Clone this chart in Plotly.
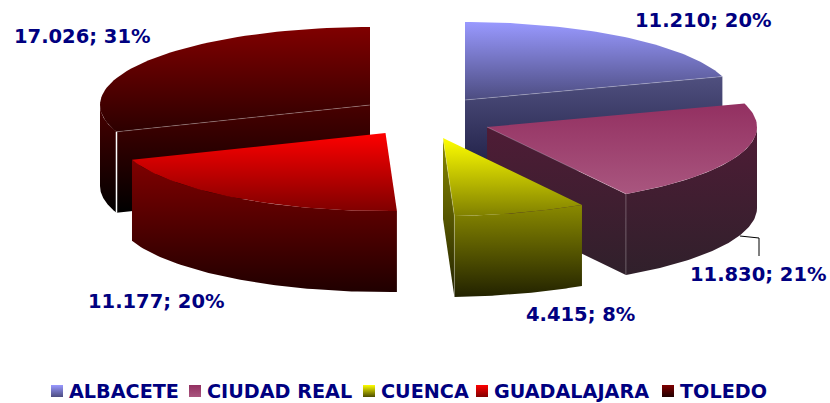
import math
import plotly.graph_objects as go

# ---- data ----
categories = ["ALBACETE", "CIUDAD REAL", "CUENCA", "GUADALAJARA", "TOLEDO"]
values = [11210, 11830, 4415, 11177, 17026]

# ---- style: gradients as (start colour, end colour) ----
top_grad = [("#9999FF", "#4C4C80"), ("#933061", "#A9567F"), ("#FFFF00", "#808000"),
            ("#FF0000", "#800000"), ("#800000", "#2C0000")]
wall_grad = [("#50507F", "#1A1A40"), ("#4F1C36", "#30202B"), ("#8A8A00", "#222200"),
             ("#800000", "#200000"), ("#480000", "#000000")]
swatch_grad = [("#9999FF", "#4C4C80"), ("#933061", "#A9567F"), ("#FFFF00", "#4C4C00"),
               ("#FF0000", "#800000"), ("#800000", "#200000")]
NAVY = "#000080"
FONT = "DejaVu Sans"

# ---- layout geometry ----
RX, RY, DEPTH = 270, 78, 81
centres = [(465, 100), (487, 127), (443, 138), (385.5, 133), (370, 105)]
draw_order = [4, 0, 3, 1, 2]
label_pos = [(635, 20), (690, 274), (526, 314), (88, 301), (14, 36)]
legend_swatch_x = [57, 195, 369, 482, 668]
legend_text_x = [69, 207, 381, 494, 680]
legend_y = 391

total = sum(values)
edges = [0.0]
for v in values:
    edges.append(edges[-1] + v / total * 360)


def pt(c, deg, dz=0):
    r = math.radians(deg)
    return c[0] + RX * math.sin(r), c[1] - RY * math.cos(r) + dz


def arc(c, a, b, dz=0, n=60):
    return [pt(c, a + (b - a) * i / n, dz) for i in range(n + 1)]


def poly(points, grad, y0, y1, name):
    xs = [p[0] for p in points] + [points[0][0]]
    ys = [p[1] for p in points] + [points[0][1]]
    return go.Scatter(
        x=xs, y=ys, mode="lines", fill="toself", line=dict(width=0), name=name,
        fillgradient=dict(type="vertical", start=y0, stop=y1,
                          colorscale=[[0, grad[0]], [1, grad[1]]]),
        hoverinfo="name", showlegend=False,
    )


def edge(p, q, color="rgba(255,255,255,0.3)", w=0.8):
    return go.Scatter(x=[p[0], q[0]], y=[p[1], q[1]], mode="lines",
                      line=dict(color=color, width=w), hoverinfo="skip", showlegend=False)


fig = go.Figure()
for i in draw_order:
    c = centres[i]
    a, b = edges[i], edges[i + 1]
    name = categories[i]
    top = [c] + arc(c, a, b)
    tops_y = [p[1] for p in top]
    g = top_grad[i]
    w = wall_grad[i]
    # visible cut faces
    if 0 < b < 180:
        e = pt(c, b)
        face = [c, e, (e[0], e[1] + DEPTH), (c[0], c[1] + DEPTH)]
        fy = [p[1] for p in face]
        fig.add_trace(poly(face, w, min(fy), max(fy), name))
    if 180 < a < 360:
        e = pt(c, a)
        face = [c, e, (e[0], e[1] + DEPTH), (c[0], c[1] + DEPTH)]
        fy = [p[1] for p in face]
        fig.add_trace(poly(face, w, min(fy), max(fy), name))
    # outer wall, front half only
    lo, hi = max(a, 90), min(b, 270)
    if lo < hi:
        t = arc(c, lo, hi)
        wall = t + [(x, y + DEPTH) for x, y in reversed(t)]
        fy = [p[1] for p in wall]
        fig.add_trace(poly(wall, w, min(fy), max(fy), name))
    fig.add_trace(poly(top, g, min(tops_y), max(tops_y), name))

    # thin highlights along the visible edges
    if 0 < b < 180:
        e = pt(c, b)
        fig.add_trace(edge(c, e))
        fig.add_trace(edge(e, (e[0], e[1] + DEPTH)))
    if 180 < a < 360:
        e = pt(c, a)
        fig.add_trace(edge(c, e))
        fig.add_trace(edge(e, (e[0], e[1] + DEPTH), "#FFFFFF", 1.5))

# leader line of the CIUDAD REAL label
fig.add_trace(go.Scatter(x=[740, 759, 759], y=[236, 238, 256], mode="lines",
                         line=dict(color="#000000", width=1),
                         hoverinfo="skip", showlegend=False))

# data labels
annotations = []
for i, v in enumerate(values):
    txt = f"{v:,}".replace(",", ".") + f"; {round(v / total * 100)}%"
    annotations.append(dict(x=label_pos[i][0], y=label_pos[i][1], text=txt, showarrow=False,
                            xanchor="left", yanchor="middle", xshift=-2,
                            font=dict(family=FONT, size=19.5, color=NAVY, weight="bold")))

# legend
for i, name in enumerate(categories):
    fig.add_trace(go.Scatter(
        x=[legend_swatch_x[i]], y=[legend_y], mode="markers", name=name,
        marker=dict(symbol="square", size=12, color=swatch_grad[i][0], line=dict(width=0),
                    gradient=dict(type="vertical", color=swatch_grad[i][1])),
        hoverinfo="name", showlegend=False))
    annotations.append(dict(x=legend_text_x[i], y=legend_y, text=name, showarrow=False,
                            xanchor="left", yanchor="middle", xshift=-2,
                            font=dict(family=FONT, size=19.2, color=NAVY, weight="bold")))

fig.update_layout(
    width=830, height=403, margin=dict(l=0, r=0, t=0, b=0),
    paper_bgcolor="white", plot_bgcolor="white", showlegend=False,
    annotations=annotations,
    xaxis=dict(range=[0, 830], visible=False, fixedrange=True),
    yaxis=dict(range=[403, 0], visible=False, fixedrange=True),
)
fig.write_html("out.html", config={"displayModeBar": False},
               post_script="document.body.style.margin='0';document.documentElement.style.overflow='hidden';")
